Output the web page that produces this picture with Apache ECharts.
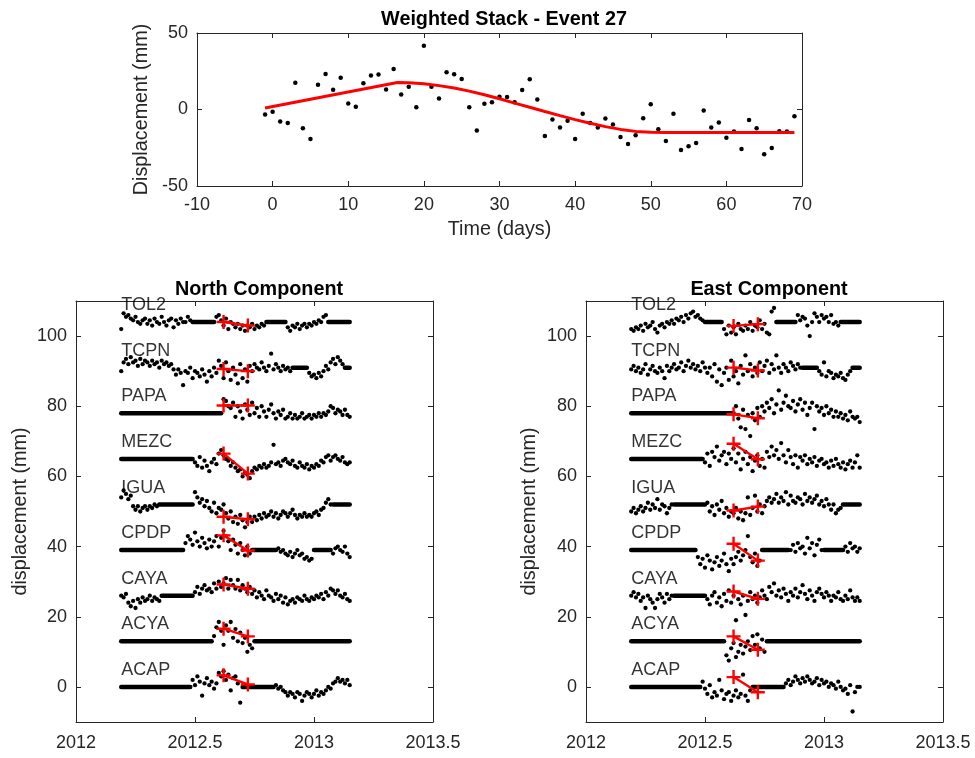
<!DOCTYPE html>
<html><head><meta charset="utf-8">
<script src="https://cdn.jsdelivr.net/npm/echarts@6/dist/echarts.min.js"></script>
<style>html,body{margin:0;padding:0;background:#fff}#c{width:975px;height:758px}</style>
</head><body><div id="c"></div>
<script>
// ---------- Top panel data ----------
const stackDays = [-1,0,1,2,3,4,5,6,7,8,9,10,11,12,13,14,15,16,17,18,19,20,21,22,23,24,25,26,27,28,29,30,31,32,33,34,35,36,37,38,39,40,41,42,43,44,45,46,47,48,49,50,51,52,53,54,55,56,57,58,59,60,61,62,63,64,65,66,67,68,69];
const stackValues = [-3.3,-1.5,-7.9,-8.8,17.5,-12.3,-19.3,16.2,23.2,12.9,20.8,3.9,1.8,17.1,22.3,22.8,13.1,26.5,9.8,14.9,1.5,41.6,14.9,7.2,24.3,23,19.9,1.5,-13.8,3.7,4.8,8.3,8.1,4.8,12.7,19.7,6.6,-17.3,-6.6,-11.8,-7.4,-19.3,-2.8,-8.8,-11.8,-5.9,-9.8,-17.9,-22.5,-16.8,-5.7,3.5,-12.9,-20.6,-2.8,-26.5,-24.1,-21.9,-0.7,-11.8,-8.5,-18.4,-14.4,-25.8,-6.8,-12.3,-29.3,-25.2,-14.2,-14.4,-4.4];
const fitDays = [-1,16.5,18,20,22,24,26,28,30,32,34,36,38,40,42,44,46,48,50,52,69];
const fitValues = [1,17.7,17.5,16.8,15.6,14,12,9.6,7,4.2,1.5,-1.3,-4,-6.6,-9,-11.2,-13,-14.3,-14.9,-15,-15];

// ---------- Station panels ----------
const stations = ['ACAP','ACYA','CAYA','CPDP','IGUA','MEZC','PAPA','TCPN','TOL2'];
const offsets = [0,13,26,39,52,65,78,91,104];
const spanStart = 2012.19, spanEnd = 2013.15, sampleStep = 0.01;
const redTimes = [2012.62, 2012.722];
const northRed = [[3.3,0.7],[16.6,14.4],[29.2,28],[43.2,38.9],[48.5,47.8],[66.5,60.8],[80.2,80.2],[90.6,90],[104,103]];
const eastRed  = [[2.8,-1.5],[14.4,10.6],[27.2,25.1],[40.8,36],[50.3,51.4],[69.3,64.9],[77.7,76.6],[91,90.2],[102.9,103.4]];

// North component segments: [start time, values at sampleStep]
const nTOL2 = [
 [2012.19,[102,106.5,105.5,106,105,104.5,105.5,104,103.5,104.5,105,103.5,104.5,103,105,104,103.5,105.5,104,103,104.5,105,102.5,104.5,103.5,105,104,104,105.5,104.5]],
 [2012.59,[105.5,106,104.5,103,105,102,104,103.5,102.5,103.5,102,103,101.5,103,102.5,103.5,102,103,102.5,103.5,103]],
 [2012.89,[102.5,101.5,103,102.5,103.5,102,103,103.5,102.5,103.5,103,104,103.5,104.5,104,105.5,106]]];
const nTCPN = [
 [2012.19,[90,92.5,93.5,92,94,92.5,93,91.5,93.5,92,93,92.5,91.5,93,92,92.5,91,93,92,92.5,91.5,92,
   90.5,89,90.5,89.5,86,90,89.5,91,88,90,89.5,88.5,90.5,89,87,90,88.5,91,89.5,
   93,91.5,88,92.5,90,87.5,91,89,86.5,92,88,90.5,87,91.5,
   90,92,91,90.5,92.5,91,90,91.5,95,90.5,92,91,90,91.5,90.5,91,90]],
 [2012.98,[89.5,88.5,89,88,89.5,88.5,90,91.5,90.5,92.5,93.5,92,94,93,92]]];
const nPAPA = [
 [2012.62,[82,81.5,80,79.5,81,77,80,78.5,76.5,80.5,79,77.5,81,78,79.5,77,80,78.5,77,79,80.5,78,76.5,78.5,77.5,79,76.5,77,78,76.5,77.5,76.5,77,78,76.5,77,77.5,76.5,77.5,77,78,77,78,77.5,78.5,80,79.5,78,79,78.5,77.5,79,77.5,77]]];
const nMEZC = [
 [2012.50,[64,63,65.5,62.5,64.5,63,61.5,64,65,63.5,66.5,67.5,66,
   65,64.5,63,64,62.5,61.5,62,60,61,60.5,59.5,
   61.5,62.5,62,63,62.5,63.5,62.5,63,64,69,63.5,64,63,64.5,65,64,63.5,64.5,63,62.5,64,63,62.5,63.5,62,63,62.5,63.5,63,64.5,64,65.5,66,64.5,65.5,66,65,64.5,65.5,64,63.5,64]]];
const nIGUA = [
 [2012.19,[54,56,55,53.5,54.5,51.5,50.5,51.5,50,51,51.5,50.5,51.5,51,52,51.5]],
 [2012.50,[55.5,54,52.5,53.5,51.5,53,51,50,52.5,49.5,51,50.5,52,
   49.5,48,50,47,48.5,46.5,49,47.5,45.5,47,48.5,
   47,48.5,47.5,49,48,49.5,48.5,49,50,48.5,49.5,48,49,50,49.5,48.5,49.5,50.5,49,48,49,48.5,49.5,48.5,49,48.5,49.5,50,49,50.5,51,52.5,53.5,52]]];
const nCPDP = [
 [2012.46,[41,43,42,40.5,44,41.5,40,42.5,41,39.5,42,40,41.5,43,40,42.5,44.5,43,41.5,39,42,40.5,38,41,39,37.5,40,38]],
 [2012.85,[39.5,38.5,39,38,37.5,38.5,37,38,39,37.5,38,36.5,37,36,36.5]],
 [2013.08,[38,39.5,40,39,38.5,40,38,37]]];
const nCAYA = [
 [2012.19,[26,25.5,26.5,24,23,24.5,22.5,25,24,25.5,24.5,25,26,24.5,25.5,25,24.5]],
 [2012.50,[27,28.5,26.5,28,29,27.5,28,27,29.5,28,
   30,28.5,29.5,31,28,30.5,29,28,30.5,27.5,29,28,27,28.5,
   26.5,27.5,25.5,27,26,25,27.5,26,25.5,24.5,26.5,25,26,24,25.5,23.5,
   24.5,25,24,25.5,25,24.5,26,25,24.5,25.5,25,26,25.5,26.5,25,
   27,26,28,27.5,26.5,27.5,26,25.5,26.5,25,24.5]]];
const nACYA = [
 [2012.58,[14.5,17,18.5,16,12,17.5,16,18.5,14,16.5,13,15.5,12.5,14,10,12,11]]];
const nACAP = [
 [2012.49,[2,0.5,3,1.5,-2.5,1,2.5,0.5,1.5,-0.5,1,4,3,4.5,2,3.5,-1,2.5,3,1,-4.5]],
 [2012.84,[0.5,-0.5,0,-1,-1.5,-2.5,-1.5,-2,-3,-1.5,-2,-4,-2.5,-1.5,-2,-3,-2,-1,-2.5,-1.5,-2,-1,0,-0.5,1,1.5,2.5,1.5,2,1,2,0.5]]];

// East component segments
const eTOL2 = [
 [2012.19,[102,101.5,102.5,102,103,101.5,103.5,102.5,103,104,102,101,103,103.5,102.5,104,103.5,104.5,103.5,105,104.5,105.5,104,106,105,106.5,107,105.5,106,105,104.5]],
 [2012.58,[102,100.5,103,101,102.5,100.5,103.5,102,101.5,103,102,104,101.5,103,102.5,104.5,102,103.5,101,100.5,107,108]],
 [2012.89,[106,104.5,105.5,105,103,100,104,106.5,105.5,104,106,105,105.5,104,106,103.5,104,103]]];
const eTCPN = [
 [2012.19,[90.5,91.5,90,91,89.5,90.5,92,89,90.5,91.5,90,89.5,91,90,88,91.5,90,91,92,90.5,91,92.5,90,91.5,93,91,92,90.5,91.5,90,92.5,91,89.5,91,88.5,92,87,90.5,86,89.5,91,87.5,93,88.5,90,86.5,91.5,89,94.5,90,92,88.5,91,89.5,92.5,90,91.5,93,89.5,92,90.5,94.5,91,89.5,92,91,90,92.5,91.5,90.5,92,91]],
 [2012.98,[90,89,92.5,88.5,90,89.5,88,89,88.5,89.5,88,87.5,89,90]]];
const ePAPA = [
 [2012.63,[80,76.5,74,79,73.5,77.5,71.5,78,76,79.5,77,80,78.5,81,79.5,82,78,80.5,84.5,79,81,83,80,79.5,81.5,78.5,80.5,82,79,81,77.5,79.5,81,73.5,80,78.5,79.5,77.5,80,78,79,77,78.5,77,78,76.5,77.5,76,78.5,77,76.5,77,75.5]]];
const eMEZC = [
 [2012.50,[64,66.5,63,67,65.5,68.5,64.5,66,67,63.5,66.5,65,68,64,66.5,62,65,67,63.5,65.5,61.5,64.5,66,63,65,62.5,67,65.5,68.5,66,67.5,65,69.5,66,64,67.5,65.5,63.5,66,62.5,65.5,64.5,66,63.5,65,64,65.5,63,64.5,65,63.5,64,62.5,64.5,63,65,63.5,62.5,64,62,63.5,64.5,62.5,64,66,62.5]]];
const eIGUA = [
 [2012.19,[50,51,49.5,50.5,51.5,50,51,52.5,50.5,52,51,53.5,50.5,52,51.5,49.5,51,52]],
 [2012.51,[52.5,50,51.5,49,52,50.5,53,49.5,51,48.5,50,49.5,51,48,50,47.5,49.5,54,49,51,54.5,50,52,49.5,51.5,53,54,52.5,53.5,55,52.5,54,53,55.5,52,54.5,53,52.5,54,53.5,52,55,53,54,52.5,53.5,54.5,52,53,51.5,53.5,52,50.5,52,49.5,50.5,51]]];
const eCPDP = [
 [2012.47,[37,35,36.5,34,37.5,36,33.5,35.5,37,34.5,36,38,35,33,36.5,35,37,38.5,36,37.5,39,43,37,35.5,38,34.5,36]],
 [2012.86,[39,40.5,38.5,41,39.5,40,38,42.5,39.5,41,37.5,40.5,42,39]],
 [2013.09,[40,38.5,41,39.5,40,38.5,39.5]]];
const eCAYA = [
 [2012.19,[26,27,25.5,26.5,24.5,25.5,22.5,26,25,24,22.5,25,26.5,25.5,24,26.5,25,26]],
 [2012.51,[25,23.5,26,27,24,25.5,23,26.5,24.5,27.5,24,26,19,25,23.5,26,20.5,24.5,27,25,26,24,25.5,27.5,26,25,28.5,27,29.5,26,27.5,25.5,28,26.5,24.5,27,26,28,25.5,27,29,26.5,25,27.5,26,24.5,27,28,26.5,25.5,27,26,24.5,26,25.5,27,25,24.5,26,25,27.5,25.5,24.5,25.5,24.5]]];
const eACYA = [
 [2012.59,[9,7.5,11,12.5,8.5,10,12,9.5,11.5,13,10.5,14.5,12,15,11,13.5,10]]];
const eACAP = [
 [2012.49,[1.5,-0.5,-2,0.5,-3,-1.5,-2.5,2,-1,-3.5,-2,-1.5,-4,-2.5,-1,-3,-2,3.5,-2.5,-4,-1]],
 [2012.84,[1,2,0.5,1.5,3,2,1,2.5,1.5,3,2,1,1.5,2.5,0.5,2,1,1.5,0,1,0.5,-0.5,1.5,0,-1,-0.5,-2,0.5,-7,-1.5,0,0]]];

const northData = [nACAP,nACYA,nCAYA,nCPDP,nIGUA,nMEZC,nPAPA,nTCPN,nTOL2];
const eastData  = [eACAP,eACYA,eCAYA,eCPDP,eIGUA,eMEZC,ePAPA,eTCPN,eTOL2];

// ---------- Build chart ----------
const FONT = '"Liberation Sans", Arial, Helvetica, sans-serif';
const AX = '#262626';
const yTicks = [0,20,40,60,80,100];

function xAxisDef(gi, pos, showLabel, ext) {
  return Object.assign({
    gridIndex: gi, type: 'value', position: pos,
    axisLine: {show: true, onZero: false, lineStyle: {color: AX, width: 1}},
    axisTick: {show: true, inside: true, length: 5, lineStyle: {color: AX}},
    axisLabel: {show: showLabel, color: AX, fontSize: 18, fontFamily: FONT, margin: 10},
    splitLine: {show: false}
  }, ext);
}
function yAxisDef(gi, pos, showLabel, ext, custom) {
  const a = Object.assign({
    gridIndex: gi, type: 'value', position: pos,
    axisLine: {show: true, onZero: false, lineStyle: {color: AX, width: 1}},
    axisTick: {show: true, inside: true, length: 5, lineStyle: {color: AX}},
    axisLabel: {show: showLabel, color: AX, fontSize: 18, fontFamily: FONT, margin: 9},
    splitLine: {show: false}
  }, ext);
  if (custom) { a.axisTick.customValues = custom; a.axisLabel.customValues = custom; }
  return a;
}
const yrFmt = v => String(v);
const nameStyle = {color: AX, fontSize: 19.8, fontFamily: FONT};

const xAxes = [
  xAxisDef(0,'bottom',true,{min:-10,max:70,interval:10,name:'Time (days)',nameLocation:'middle',nameGap:34,nameTextStyle:nameStyle}),
  xAxisDef(0,'top',false,{min:-10,max:70,interval:10}),
  xAxisDef(1,'bottom',true,{min:2012,max:2013.5,interval:0.5}),
  xAxisDef(1,'top',false,{min:2012,max:2013.5,interval:0.5}),
  xAxisDef(2,'bottom',true,{min:2012,max:2013.5,interval:0.5}),
  xAxisDef(2,'top',false,{min:2012,max:2013.5,interval:0.5})
];
xAxes[2].axisLabel.formatter = yrFmt; xAxes[4].axisLabel.formatter = yrFmt;
xAxes[2].axisLabel.margin = 12; xAxes[4].axisLabel.margin = 12;
const yAxes = [
  yAxisDef(0,'left',true,{min:-50,max:50,interval:50,name:'Displacement (mm)',nameLocation:'middle',nameGap:38,nameTextStyle:nameStyle}),
  yAxisDef(0,'right',false,{min:-50,max:50,interval:50}),
  yAxisDef(1,'left',true,{min:-10,max:110,name:'displacement (mm)',nameLocation:'middle',nameGap:45,nameTextStyle:nameStyle},yTicks),
  yAxisDef(1,'right',false,{min:-10,max:110},yTicks),
  yAxisDef(2,'left',true,{min:-10,max:110,name:'displacement (mm)',nameLocation:'middle',nameGap:46,nameTextStyle:nameStyle},yTicks),
  yAxisDef(2,'right',false,{min:-10,max:110},yTicks)
];

const series = [];
// top panel
series.push({type:'scatter', xAxisIndex:0, yAxisIndex:0, symbolSize:4.5, itemStyle:{color:'#000', opacity:1},
  data: stackDays.map((d,i)=>[d, stackValues[i]]), z:3});
series.push({type:'line', xAxisIndex:0, yAxisIndex:0, symbol:'none', lineStyle:{color:'#ff0000', width:3},
  data: fitDays.map((d,i)=>[d, fitValues[i]]), z:4});

const nSteps = Math.round((spanEnd - spanStart)/sampleStep);
const plus = 'path://M0,5L10,5M5,0L5,10';
function addComponent(compData, red, axisIdx) {
  const pts = [];
  compData.forEach((segs, si) => {
    const covered = new Array(nSteps+1).fill(false);
    segs.forEach(([s, vals]) => {
      const k0 = Math.round((s - spanStart)/sampleStep);
      vals.forEach((v, k) => {
        covered[k0+k] = true;
        pts.push([spanStart + (k0+k)*sampleStep, v]);
      });
    });
    // flat baseline over the gaps
    let a = -1;
    for (let i = 0; i <= nSteps+1; i++) {
      const gap = i <= nSteps && !covered[i];
      if (gap && a < 0) a = i;
      if (!gap && a >= 0) {
        series.push({type:'line', xAxisIndex:axisIdx, yAxisIndex:axisIdx, symbol:'none', silent:true,
          lineStyle:{color:'#000', width:4.5, cap:'round'},
          data:[[spanStart + a*sampleStep, offsets[si]],[spanStart + (i-1)*sampleStep, offsets[si]]], z:2});
        a = -1;
      }
    }
    // red markers
    series.push({type:'line', xAxisIndex:axisIdx, yAxisIndex:axisIdx, symbol:plus, symbolSize:14, showSymbol:true,
      lineStyle:{color:'#ff0000', width:2.4}, itemStyle:{color:'#ff0000', borderColor:'#ff0000', borderWidth:2.4},
      data: redTimes.map((t,j)=>[t, red[si][j]]), z:5});
  });
  series.push({type:'scatter', xAxisIndex:axisIdx, yAxisIndex:axisIdx, symbolSize:4.3, itemStyle:{color:'#000', opacity:1}, data:pts, z:3, large:false});
  // station names
  series.push({type:'scatter', xAxisIndex:axisIdx, yAxisIndex:axisIdx, symbolSize:0, silent:true,
    data: stations.map((n,i)=>[spanStart, offsets[i] + 4.8, n]),
    label:{show:true, position:'right', distance:0, formatter:p=>p.data[2], color:'#000', fontSize:18, fontFamily:FONT}, z:6});
}
addComponent(northData, northRed, 2);
addComponent(eastData, eastRed, 4);

const chart = echarts.init(document.getElementById('c'), null, {renderer:'canvas'});
chart.setOption({
  animation: false,
  backgroundColor: '#fff',
  title: [
    {text:'Weighted Stack - Event 27', left:499, top:5, textAlign:'center', textStyle:{fontSize:19.8, fontWeight:'bold', color:'#000', fontFamily:FONT}},
    {text:'North Component', left:254, top:275, textAlign:'center', textStyle:{fontSize:19.8, fontWeight:'bold', color:'#000', fontFamily:FONT}},
    {text:'East Component', left:764, top:275, textAlign:'center', textStyle:{fontSize:19.8, fontWeight:'bold', color:'#000', fontFamily:FONT}}
  ],
  grid: [
    {left:197, top:33, width:605, height:153},
    {left:76, top:301, width:357, height:421},
    {left:586, top:301, width:357, height:421}
  ],
  xAxis: xAxes,
  yAxis: yAxes,
  series: series
});
</script></body></html>
